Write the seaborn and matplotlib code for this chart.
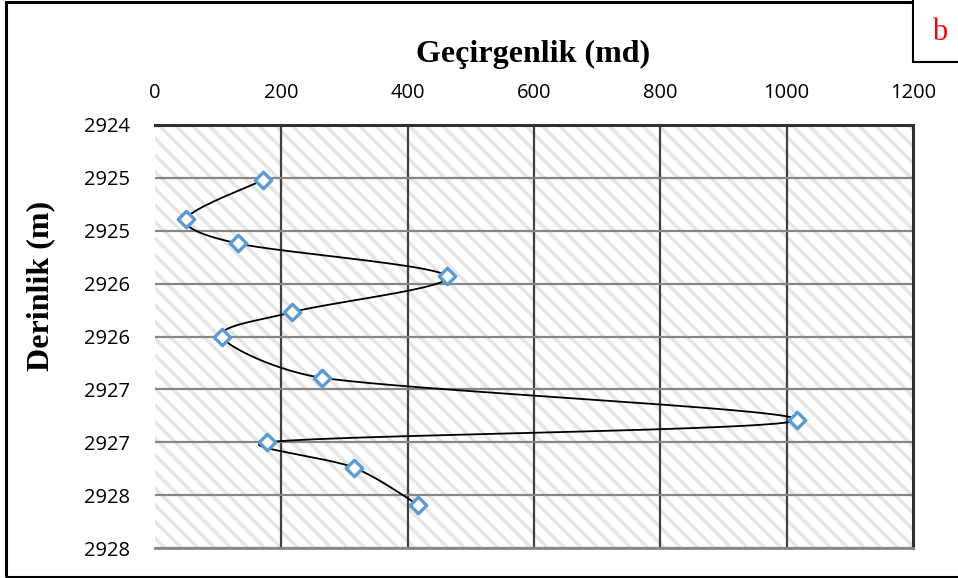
import numpy as np
import pandas as pd
import seaborn as sns
import matplotlib.pyplot as plt
from matplotlib.patches import Rectangle

sns.set_style("white")
plt.rcParams['font.family'] = ['Open Sans', 'DejaVu Sans']
plt.rcParams['hatch.linewidth'] = 2.6
plt.rcParams['hatch.color'] = '#e6e6e6'
plt.rcParams['text.color'] = 'black'
plt.rcParams['xtick.color'] = 'black'
plt.rcParams['ytick.color'] = 'black'

# Datos
permeability = [171, 49, 131, 462, 217, 106, 264, 1016, 177, 315, 416]
depth = [2924.52, 2924.89, 2925.12, 2925.43, 2925.77, 2926.00,
         2926.39, 2926.79, 2927.00, 2927.24, 2927.59]
x_ticks = [0, 200, 400, 600, 800, 1000, 1200]
y_ticks = [2924, 2924.5, 2925, 2925.5, 2926, 2926.5, 2927, 2927.5, 2928]

df = pd.DataFrame({'k': permeability, 'z': depth})

fig = plt.figure(figsize=(9.58, 5.78), dpi=100)
ax = fig.add_axes([155 / 958, 1 - 548 / 578, (913 - 155) / 958, (548 - 125) / 578])
ax.set_xlim(0, 1200)
ax.set_ylim(2928, 2924)


# Linea suavizada tipo Excel (Bezier con brazos limitados)
def smooth(x, y, n=60):
    p = ax.transData.transform(np.column_stack([x, y]).astype(float))
    p = np.vstack([p[0], p, p[-1]])
    out = []
    for i in range(1, len(p) - 2):
        p0, p1, p2, p3 = p[i - 1], p[i], p[i + 1], p[i + 2]
        seg_len = np.linalg.norm(p2 - p1)
        a1 = (p2 - p0) / 6
        a2 = (p3 - p1) / 6
        lim = seg_len * 0.4
        if np.linalg.norm(a1) > lim:
            a1 = a1 / np.linalg.norm(a1) * lim
        if np.linalg.norm(a2) > lim:
            a2 = a2 / np.linalg.norm(a2) * lim
        c1 = p1 + a1
        c2 = p2 - a2
        t = np.linspace(0, 1, n)[:, None]
        seg = ((1 - t) ** 3) * p1 + 3 * ((1 - t) ** 2) * t * c1 + 3 * (1 - t) * t ** 2 * c2 + t ** 3 * p2
        out.append(seg)
    s = ax.transData.inverted().transform(np.vstack(out))
    return s[:, 0], s[:, 1]


sx, sy = smooth(df['k'], df['z'])

# fondo rayado
ax.add_patch(Rectangle((0, 0), 1, 1, transform=ax.transAxes, facecolor='white',
                       hatch='\\\\', edgecolor='#e6e6e6', linewidth=0, zorder=0))

for v in x_ticks[1:-1]:
    ax.axvline(v, color='#404040', lw=1.6, zorder=1)
for v in y_ticks[1:]:
    ax.axhline(v, color='#868686', lw=1.6, zorder=1)

ax.plot(sx, sy, color='black', lw=1.3, zorder=2)
sns.scatterplot(data=df, x='k', y='z', ax=ax, marker='D', s=70,
                facecolor='white', edgecolor='#5b9bd5', linewidth=2.4, zorder=3)

ax.xaxis.tick_top()
ax.set_xticks(x_ticks)
ax.set_xticklabels([str(v) for v in x_ticks], fontsize=14.5)
ax.set_yticks(y_ticks)
ax.set_yticklabels([str(int(np.floor(v + 0.5))) for v in y_ticks], fontsize=14.5)
ax.tick_params(axis='x', length=0, pad=16)
ax.tick_params(axis='y', length=3, width=1, color='#404040', pad=15)
ax.set_xlabel('')
ax.set_ylabel('')

ax.spines['left'].set_visible(False)
ax.spines['top'].set_color('#303030')
ax.spines['top'].set_linewidth(2.2)
ax.spines['right'].set_color('#303030')
ax.spines['right'].set_linewidth(2.2)
ax.spines['bottom'].set_color('#868686')
ax.spines['bottom'].set_linewidth(2)

fig.text(533 / 958, 1 - 54 / 578, 'Geçirgenlik (md)', ha='center', va='center',
         fontsize=23, fontweight='bold', family='Liberation Serif')
fig.text(41 / 958, 1 - 286 / 578, 'Derinlik (m)', ha='center', va='center', rotation=90,
         fontsize=23, fontweight='bold', family='Liberation Serif')

# marco exterior
fig.add_artist(Rectangle((6 / 958, 1 / 578), 1.0, 1 - 3 / 578, transform=fig.transFigure,
                         fill=False, edgecolor='black', lw=2.2))
# recuadro "b"
fig.add_artist(Rectangle((913 / 958, 1 - 62 / 578), 1.0, 1.0, transform=fig.transFigure,
                         facecolor='white', edgecolor='black', lw=1.5))
fig.text(940 / 958, 1 - 32 / 578, 'b', color='red', ha='center', va='center',
         fontsize=22, family='Liberation Serif')

fig.savefig('out.png', dpi=100)
